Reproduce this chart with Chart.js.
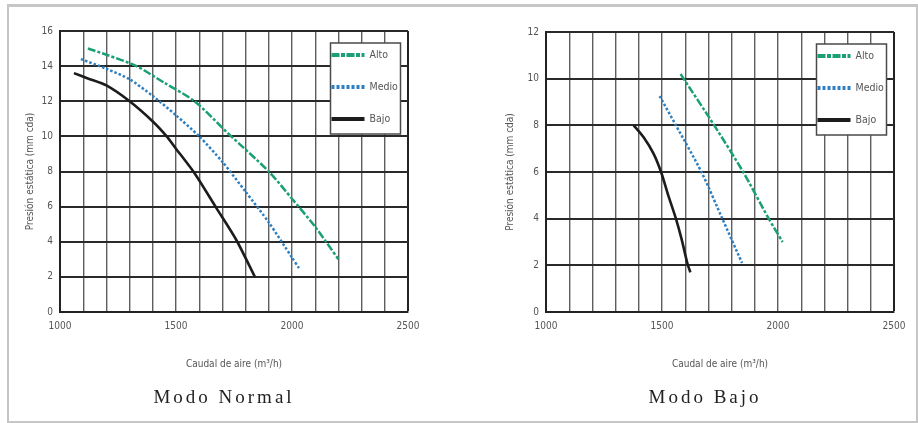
<!DOCTYPE html>
<html>
<head>
<meta charset="utf-8">
<script src="https://cdn.jsdelivr.net/npm/chart.js@4"></script>
<style>
  body { margin: 0; background: #fff; }
  #wrap { position: relative; width: 918px; height: 423px; overflow: hidden; background: #fff; }
  #frame { position: absolute; left: 7px; top: 4px; width: 911px; height: 419px; box-sizing: border-box;
           border: 2px solid #c6c6c6; border-top-width: 3px; }
  .box { position: absolute; top: 0; width: 459px; height: 423px; }
  .caption { position: absolute; top: 386px; width: 240px; text-align: center;
             font-family: 'Liberation Serif', 'DejaVu Serif', serif; font-size: 19px;
             letter-spacing: 3px; padding-left: 3px; color: #222; }
</style>
</head>
<body>
<div id="wrap">
  <div id="frame"></div>
  <div class="box" style="left:0"><canvas id="chart-normal"></canvas></div>
  <div class="box" style="left:459px"><canvas id="chart-bajo"></canvas></div>
  <div class="caption" style="left:101px">Modo Normal</div>
  <div class="caption" style="left:582px">Modo Bajo</div>
</div>
<script>
const seriesNames = ['Alto', 'Medio', 'Bajo'];
const caudalTicks = [1000, 1500, 2000, 2500];

// Modo Normal
const caudalNormalAlto = [1120, 1200, 1330, 1450, 1580, 1730, 1900, 2000, 2100, 2200];
const presionNormalAlto = [15.0, 14.65, 14.0, 13.05, 12.0, 10.1, 8.0, 6.45, 4.85, 3.0];
const caudalNormalMedio = [1090, 1200, 1300, 1400, 1500, 1600, 1700, 1800, 1900, 2000, 2030];
const presionNormalMedio = [14.4, 13.85, 13.25, 12.3, 11.2, 10.0, 8.55, 6.85, 5.1, 3.1, 2.5];
const caudalNormalBajo = [1060, 1120, 1200, 1300, 1400, 1460, 1500, 1580, 1675, 1760, 1840];
const presionNormalBajo = [13.6, 13.3, 12.9, 12.0, 10.85, 10.0, 9.3, 7.9, 5.9, 4.1, 2.0];

// Modo Bajo
const caudalBajoAlto = [1580, 1725, 1850, 1960, 2020];
const presionBajoAlto = [10.2, 8.0, 6.0, 4.0, 3.0];
const caudalBajoMedio = [1490, 1560, 1670, 1760, 1845];
const presionBajoMedio = [9.25, 8.0, 6.0, 4.0, 2.1];
const caudalBajoBajo = [1378, 1420, 1463, 1496, 1527, 1560, 1585, 1609, 1622];
const presionBajoBajo = [8.0, 7.5, 6.8, 6.0, 5.0, 4.0, 3.1, 2.1, 1.7];

const narrow = "'Liberation Sans Narrow', 'DejaVu Sans Condensed', sans-serif";
const lineStyles = [
    { color: '#1a9f77', dash: [8, 2, 3, 2], legendDash: [8, 1.5, 4, 1.5], width: 2.5 },
    { color: '#2d7fc1', dash: [2.5, 2], legendDash: [3, 2], width: 2.5 },
    { color: '#1c1c1c', dash: [], legendDash: [], width: 2.6 }
];

function toPoints(xs, ys) {
    return xs.map((x, i) => ({ x: x, y: ys[i] }));
}

// boxed legend in the upper right corner of the plot
const legendBox = {
    id: 'legendBox',
    afterDatasetsDraw(chart) {
        const { ctx, chartArea } = chart;
        const w = 70, h = 91;
        const x = chartArea.right - 7.5 - w;
        const y = chartArea.top + 12;
        ctx.save();
        ctx.fillStyle = '#fff';
        ctx.fillRect(x, y, w, h);
        ctx.strokeStyle = '#4a4a4a';
        ctx.lineWidth = 1.5;
        ctx.strokeRect(x, y, w, h);
        chart.data.datasets.forEach((ds, i) => {
            const ly = y + 12 + i * 32;
            ctx.beginPath();
            ctx.setLineDash(lineStyles[i].legendDash);
            ctx.lineWidth = 4;
            ctx.strokeStyle = ds.borderColor;
            ctx.moveTo(x + 1, ly);
            ctx.lineTo(x + 34, ly);
            ctx.stroke();
            ctx.setLineDash([]);
            ctx.fillStyle = '#555';
            ctx.font = '10.5px ' + narrow;
            ctx.textBaseline = 'middle';
            ctx.fillText(ds.label, x + 39, ly);
        });
        ctx.restore();
    }
};

function makeChart(id, series, yMax, pad, titlePad) {
    const ctx = document.getElementById(id).getContext('2d');
    return new Chart(ctx, {
        type: 'line',
        data: {
            datasets: series.map((pts, i) => ({
                label: seriesNames[i],
                data: pts,
                borderColor: lineStyles[i].color,
                borderDash: lineStyles[i].dash,
                borderWidth: lineStyles[i].width,
                pointRadius: 0,
                tension: 0.25,
                fill: false
            }))
        },
        options: {
            responsive: true,
            maintainAspectRatio: false,
            animation: false,
            layout: { padding: pad },
            scales: {
                x: {
                    type: 'linear',
                    min: 1000,
                    max: 2500,
                    afterFit: (scale) => { scale.height = 61; },
                    ticks: {
                        stepSize: 100,
                        autoSkip: false,
                        maxRotation: 0,
                        padding: 8,
                        color: '#555',
                        font: { family: narrow, size: 10 },
                        callback: (v) => caudalTicks.includes(v) ? String(v) : ''
                    },
                    grid: {
                        drawTicks: false,
                        color: (c) => c.tick && c.tick.value === 2500 ? '#222' : '#5e5e5e',
                        lineWidth: (c) => c.tick && c.tick.value === 2500 ? 2 : 1.4
                    },
                    border: { display: true, color: '#222', width: 2 },
                    title: {
                        display: true,
                        text: 'Caudal de aire (m³/h)',
                        color: '#555',
                        font: { family: narrow, size: 10 },
                        padding: { top: 0, bottom: 3 }
                    }
                },
                y: {
                    min: 0,
                    max: yMax,
                    afterFit: (scale) => { scale.width = 60; },
                    ticks: {
                        stepSize: 2,
                        padding: 7,
                        color: '#555',
                        font: { family: narrow, size: 10 }
                    },
                    grid: { drawTicks: false, color: '#2a2a2a', lineWidth: 2 },
                    border: { display: true, color: '#222', width: 2 },
                    title: {
                        display: true,
                        text: 'Presión estática (mm cda)',
                        color: '#555',
                        font: { family: narrow, size: 10 },
                        padding: { top: titlePad, bottom: 0 }
                    }
                }
            },
            plugins: {
                legend: { display: false },
                tooltip: { enabled: false }
            }
        },
        plugins: [legendBox]
    });
}

makeChart('chart-normal', [
    toPoints(caudalNormalAlto, presionNormalAlto),
    toPoints(caudalNormalMedio, presionNormalMedio),
    toPoints(caudalNormalBajo, presionNormalBajo)
], 16, { left: 0, top: 31, right: 51, bottom: 50 }, 24);

makeChart('chart-bajo', [
    toPoints(caudalBajoAlto, presionBajoAlto),
    toPoints(caudalBajoMedio, presionBajoMedio),
    toPoints(caudalBajoBajo, presionBajoBajo)
], 12, { left: 27, top: 32, right: 24, bottom: 50 }, 18);
</script>
</body>
</html>
